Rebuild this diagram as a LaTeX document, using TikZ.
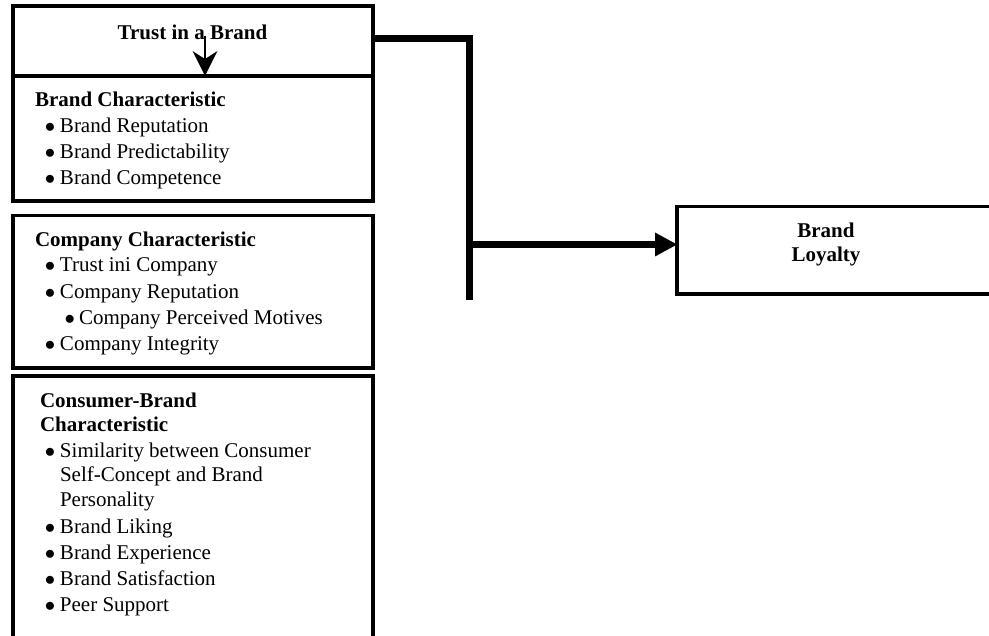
\documentclass[tikz,border=0pt]{standalone}
\usepackage{fontspec}
\setmainfont{Liberation Serif}
\usetikzlibrary{arrows.meta}
\newcommand\bul{\makebox[15pt][l]{$\bullet$}}
\newcommand\subbul{\makebox[14.5pt][l]{$\bullet$}}
\begin{document}
\begin{tikzpicture}[x=1pt,y=-1pt,
  box/.style={draw, line width=3.5pt, anchor=north west, inner sep=0pt, outer sep=0pt},
  txt/.style={anchor=base west, inner sep=0pt, outer sep=0pt, font=\fontsize{21}{24}\selectfont},
  ttl/.style={txt, font=\fontsize{21}{24}\selectfont\bfseries},
  heavy/.style={line width=7.5pt, line join=miter}]
\useasboundingbox (0,0) rectangle (989,636);
% boxes
\node[box, minimum width=360pt, minimum height=70pt] (b1) at (13,6) {};
\node[box, minimum width=360pt, minimum height=125pt] (b2) at (13,76) {};
\node[box, minimum width=360pt, minimum height=152.5pt] (b3) at (13,215.5) {};
\node[box, minimum width=360pt, minimum height=290pt] (b4) at (13,376) {};
\node[box, minimum width=330pt, minimum height=87.5pt] (loy) at (677,206.5) {};
% texts
\node[ttl, anchor=base] (t1) at (192.5,39.5) {Trust in a Brand};
\node[ttl] (h2) at (35,107) {Brand Characteristic};
\node[txt] (i21) at (45,133) {\bul Brand Reputation};
\node[txt] (i22) at (45,159) {\bul Brand Predictability};
\node[txt] (i23) at (45,185) {\bul Brand Competence};
\node[ttl] (h3) at (35,247) {Company Characteristic};
\node[txt] (i31) at (45,272) {\bul Trust ini Company};
\node[txt] (i32) at (45,299) {\bul Company Reputation};
\node[txt] (i33) at (64.5,325) {\subbul Company Perceived Motives};
\node[txt] (i34) at (45,351) {\bul Company Integrity};
\node[ttl] (h4a) at (40,408) {Consumer-Brand};
\node[ttl] (h4b) at (40,432) {Characteristic};
\node[txt] (i41) at (45,458) {\bul Similarity between Consumer};
\node[txt] (i41b) at (60,482) {Self-Concept and Brand};
\node[txt] (i41c) at (60,507) {Personality};
\node[txt] (i42) at (45,533) {\bul Brand Liking};
\node[txt] (i43) at (45,559) {\bul Brand Experience};
\node[txt] (i44) at (45,585) {\bul Brand Satisfaction};
\node[txt] (i45) at (45,611) {\bul Peer Support};
\node[ttl, anchor=base] (l1) at (826,238) {Brand};
\node[ttl, anchor=base] (l2) at (826,262) {Loyalty};
% connectors
\coordinate (ta) at (205,36);
\draw[line width=2.6pt, -{Stealth[length=25pt, width=25pt, inset=8pt, line width=0pt]}] (ta) -- (ta |- b2.north);
\coordinate (j1) at (469.5,38.5);
\coordinate (j2) at (469.5,300);
\coordinate (j3) at (469.5,244.5);
\draw[heavy] (b1.east |- j1) -- (j1) -- (j2);
\draw[heavy, -{Triangle[length=22pt, width=24pt, line width=0pt]}] (j3) -- (loy.west |- j3);
\end{tikzpicture}
\end{document}
